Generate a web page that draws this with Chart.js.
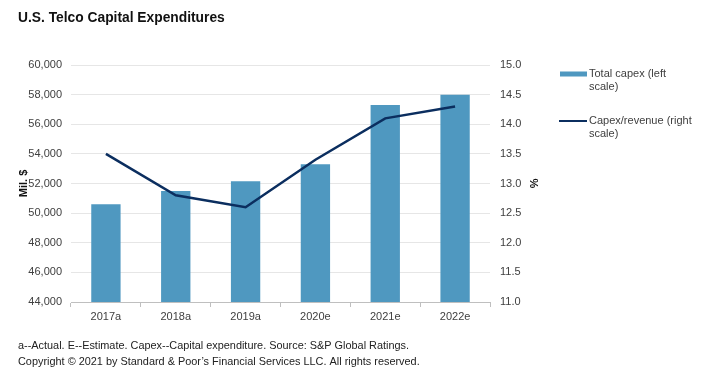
<!DOCTYPE html>
<html><head><meta charset="utf-8">
<script src="https://cdn.jsdelivr.net/npm/chart.js@4.4.1/dist/chart.umd.min.js"></script>
<style>html,body{margin:0;padding:0;background:#fff;}#wrap{width:713px;height:381px;position:relative;}</style>
</head><body><div id="wrap"><canvas id="c" width="713" height="381"></canvas></div>
<script>
const categories = ['2017a','2018a','2019a','2020e','2021e','2022e'];
const capex = [50600, 51500, 52150, 53300, 57300, 58000];
const capexRatio = [13.5, 12.8, 12.6, 13.4, 14.1, 14.3];
const seriesNames = [['Total capex (left', 'scale)'], ['Capex/revenue (right', 'scale)']];
const titleText = 'U.S. Telco Capital Expenditures';
const footnotes = ['a--Actual. E--Estimate. Capex--Capital expenditure. Source: S&P Global Ratings.',
  'Copyright \u00a9 2021 by Standard & Poor\u2019s Financial Services LLC. All rights reserved.'];
const leftTitle = 'Mil. $';
const rightTitle = '%';

const FONT = "'Liberation Sans', Arial, sans-serif";
const BAR = '#4f98c0';
const LINE = '#0b2e5f';
const TXT = '#404040';

const extras = {
  id: 'extras',
  afterDraw(chart) {
    const ctx = chart.ctx;
    ctx.save();
    ctx.fillStyle = '#111';
    ctx.font = 'bold 13.8px ' + FONT;
    ctx.textBaseline = 'middle';
    ctx.textAlign = 'left';
    ctx.fillText(titleText, 18, 18);
    ctx.font = '10.9px ' + FONT;
    ctx.fillStyle = '#222';
    ctx.fillText(footnotes[0], 18, 346);
    ctx.fillText(footnotes[1], 18, 362);
    // legend: bar series first, then line
    const ordered = [chart.data.datasets[1], chart.data.datasets[0]];
    const ys = [74, 121];
    ordered.forEach((ds, i) => {
      const y = ys[i];
      if (ds.type === 'line') {
        ctx.strokeStyle = ds.borderColor; ctx.lineWidth = 2;
        ctx.beginPath(); ctx.moveTo(559, y); ctx.lineTo(587, y); ctx.stroke();
      } else {
        ctx.fillStyle = ds.backgroundColor;
        ctx.fillRect(560, y - 2.5, 27, 5);
      }
      ctx.fillStyle = TXT;
      ctx.font = '11px ' + FONT;
      ds.label.forEach((t, k) => ctx.fillText(t, 589, y + k * 13));
    });
    ctx.restore();
  }
};

new Chart(document.getElementById('c'), {
  data: {
    labels: categories,
    datasets: [
      { type: 'line', label: seriesNames[1], data: capexRatio, yAxisID: 'y1', borderColor: LINE, backgroundColor: LINE, borderWidth: 2.5, pointRadius: 0, tension: 0, order: 0 },
      { type: 'bar', label: seriesNames[0], data: capex, yAxisID: 'y', backgroundColor: BAR, barPercentage: 0.42, categoryPercentage: 1, order: 1 }
    ]
  },
  options: {
    responsive: false,
    animation: false,
    layout: { padding: { top: 65, left: 0, right: 168, bottom: 55 } },
    plugins: { legend: { display: false }, tooltip: { enabled: false } },
    scales: {
      x: {
        offset: true,
        grid: { display: true, drawOnChartArea: false, offset: true, tickLength: 5, color: '#bfbfbf' },
        border: { color: '#bfbfbf' },
        ticks: { color: TXT, font: { family: FONT, size: 11 }, padding: 3 },
        afterFit(s) { s.height = 24; }
      },
      y: {
        position: 'left', min: 44000, max: 60000,
        ticks: { stepSize: 2000, color: TXT, font: { family: FONT, size: 11 }, padding: 9,
          callback: v => v.toLocaleString('en-US') },
        grid: { color: '#e6e6e6', tickLength: 0 },
        border: { display: false },
        title: { display: true, text: leftTitle, color: '#111', font: { family: FONT, size: 11, weight: 'bold' }, padding: { top: 17, bottom: 0 } },
        afterFit(s) { s.width = 71; }
      },
      y1: {
        position: 'right', min: 11, max: 15,
        ticks: { stepSize: 0.5, color: TXT, font: { family: FONT, size: 11 }, padding: 10,
          callback: v => v.toFixed(1) },
        grid: { drawOnChartArea: false, tickLength: 0 },
        border: { display: false },
        title: { display: true, text: rightTitle, color: '#111', font: { family: FONT, size: 11, weight: 'bold' }, padding: { top: 5, bottom: 0 } },
        afterFit(s) { s.width = 55; }
      }
    }
  },
  plugins: [extras]
});
</script></body></html>
